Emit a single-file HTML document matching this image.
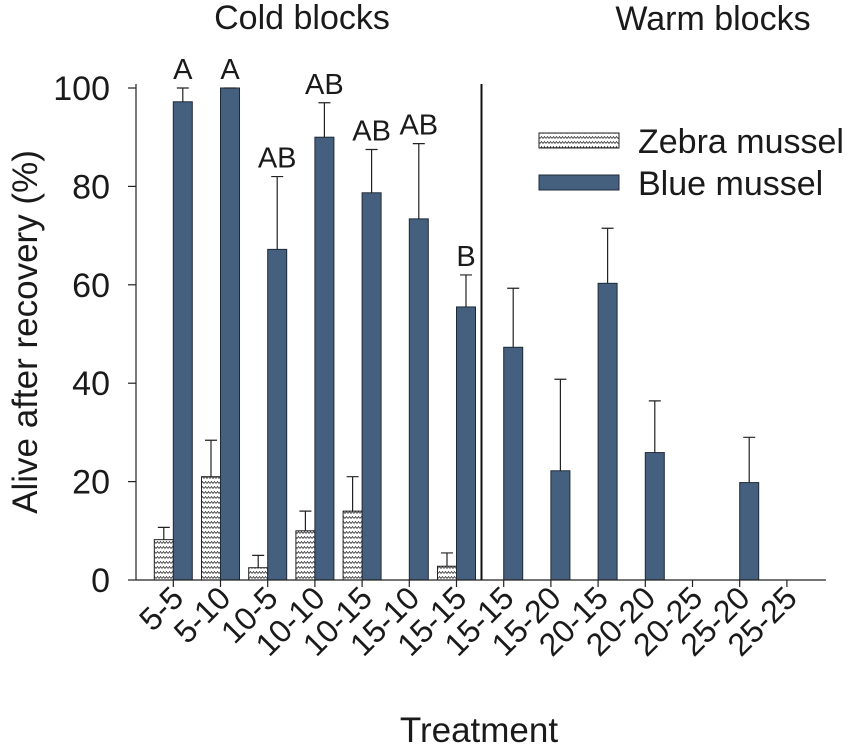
<!DOCTYPE html>
<html><head><meta charset="utf-8"><style>
body{margin:0;background:#fff}
text{font-family:"Liberation Sans",Arial,sans-serif;fill:#1a1a1a}
</style></head><body>
<svg id="chart" width="850" height="747" viewBox="0 0 850 747" xmlns="http://www.w3.org/2000/svg">
<defs>
<pattern id="zig" patternUnits="userSpaceOnUse" width="6" height="5">
<rect width="6" height="5" fill="#fff"/>
<path d="M0,3.5 L1.5,1.5 L3,3.5 L4.5,1.5 L6,3.5" fill="none" stroke="#333" stroke-width="0.8"/>
</pattern>
</defs>
<g id="plot"></g>
</svg>
<script>
const categories=["5-5","5-10","10-5","10-10","10-15","15-10","15-15","15-15","15-20","20-15","20-20","20-25","25-20","25-25"];
const blueValues=[97.2,100,67.2,90,78.7,73.4,55.5,47.3,22.2,60.3,25.9,null,19.8,null];
const blueErrTop=[100,100,82,97,87.5,88.7,62,59.3,40.8,71.5,36.4,null,29,null];
const zebraValues=[8.2,21,2.5,10,14,null,2.8,null,null,null,null,null,null,null];
const zebraErrTop=[10.7,28.4,5,14,21,null,5.5,null,null,null,null,null,null,null];
const letters=["A","A","AB","AB","AB","AB","B",null,null,null,null,null,null,null];
const yTicks=[0,20,40,60,80,100];

const NS="http://www.w3.org/2000/svg";
const g=document.getElementById('plot');
const y=v=>580-v*4.92;
const x=i=>173.3+i*47.2;
const bw=19;
function el(tag,attrs,txt){const e=document.createElementNS(NS,tag);for(const k in attrs)e.setAttribute(k,attrs[k]);if(txt!=null)e.textContent=txt;g.appendChild(e);return e;}

categories.forEach((c,i)=>{
  if(zebraValues[i]!=null){
    const r=el('rect',{x:x(i)-bw,y:y(zebraValues[i]),width:bw,height:y(0)-y(zebraValues[i]),fill:'url(#zig)',stroke:'#222','stroke-width':1});
    
    
    const cx=x(i)-bw/2;
    const l=el('path',{d:`M${cx},${y(zebraValues[i])}V${y(zebraErrTop[i])}M${cx-6},${y(zebraErrTop[i])}H${cx+6}`,stroke:'#222','stroke-width':1.2,fill:'none'});
    
    
  }
  if(blueValues[i]!=null){
    const r=el('rect',{x:x(i),y:y(blueValues[i]),width:bw,height:y(0)-y(blueValues[i]),fill:'#45607f',stroke:'#1e2a38','stroke-width':1});
    
    
    const cx=x(i)+bw/2;
    const l=el('path',{d:`M${cx},${y(blueValues[i])}V${y(blueErrTop[i])}M${cx-6},${y(blueErrTop[i])}H${cx+6}`,stroke:'#222','stroke-width':1.2,fill:'none'});
    
    
  }
  if(letters[i]){
    const t=el('text',{x:x(i)+bw/2,y:y(blueErrTop[i])-9,'text-anchor':'middle','font-size':29},letters[i]);
    
    
  }
  const tk=el('line',{x1:x(i),x2:x(i),y1:580,y2:587,stroke:'#222','stroke-width':1.2});
  
  
  const lb=el('text',{x:x(i)+12,y:600,'text-anchor':'end','font-size':32,transform:`rotate(-45 ${x(i)+12} 600)`},c);
  
  
});
let a=el('line',{x1:136,x2:136,y1:84,y2:580,stroke:'#222','stroke-width':1.2});

a=el('line',{x1:136,x2:826,y1:580,y2:580,stroke:'#222','stroke-width':1.2});

a=el('line',{x1:481.5,x2:481.5,y1:84,y2:580,stroke:'#111','stroke-width':2});

yTicks.forEach(v=>{
  const t=el('line',{x1:128,x2:136,y1:y(v),y2:y(v),stroke:'#222','stroke-width':1.2});
  
  const l=el('text',{x:110,y:y(v)+12,'text-anchor':'end','font-size':34},v);
  
});
let t=el('text',{x:302,y:29,'text-anchor':'middle','font-size':34},'Cold blocks');

t=el('text',{x:713,y:30,'text-anchor':'middle','font-size':34},'Warm blocks');

t=el('text',{x:479,y:742,'text-anchor':'middle','font-size':35},'Treatment');

t=el('text',{x:37,y:332,'text-anchor':'middle','font-size':35,transform:'rotate(-90 37 332)'},'Alive after recovery (%)');

let r=el('rect',{x:539,y:133,width:80,height:15,fill:'url(#zig)',stroke:'#222','stroke-width':1});

t=el('text',{x:638,y:153,'font-size':34},'Zebra mussel');

r=el('rect',{x:539,y:175,width:80,height:15,fill:'#45607f',stroke:'#1e2a38','stroke-width':1});

t=el('text',{x:638,y:195,'font-size':34},'Blue mussel');

</script>
</body></html>
